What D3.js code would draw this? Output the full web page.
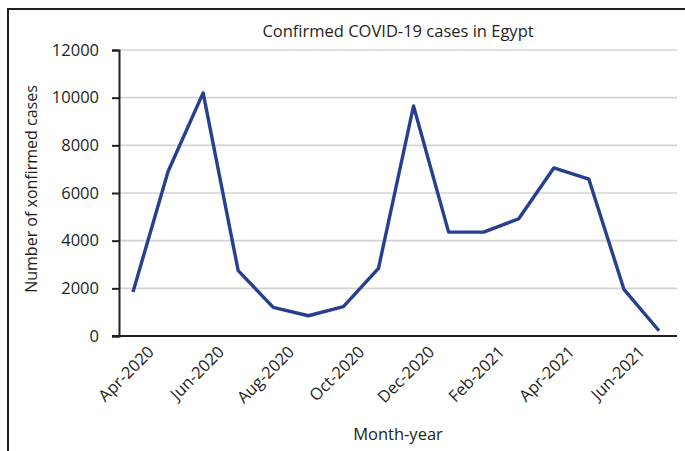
<!DOCTYPE html>
<html>
<head>
<meta charset="utf-8">
<script src="https://cdn.jsdelivr.net/npm/d3@7"></script>
<style>
  body { margin: 0; background: #fff; }
  text { font-family: "Open Sans", sans-serif; fill: #231f20; }
</style>
</head>
<body>
<div id="chart"></div>
<script>
// monthly confirmed cases
const months = ["Apr-2020", "May-2020", "Jun-2020", "Jul-2020", "Aug-2020", "Sep-2020",
  "Oct-2020", "Nov-2020", "Dec-2020", "Jan-2021", "Feb-2021", "Mar-2021",
  "Apr-2021", "May-2021", "Jun-2021", "Jul-2021"];
const cases = [1850, 6900, 10200, 2740, 1200, 850, 1230, 2840, 9650, 4360, 4360, 4920,
  7050, 6580, 1960, 220];
const tickLabels = ["Apr-2020", "Jun-2020", "Aug-2020", "Oct-2020", "Dec-2020",
  "Feb-2021", "Apr-2021", "Jun-2021"];
const yTicks = [0, 2000, 4000, 6000, 8000, 10000, 12000];

const W = 685, H = 451;
const margin = {left: 119, right: 677, top: 50, bottom: 336};

const svg = d3.select("#chart")
  .append("svg")
    .attr("width", W)
    .attr("height", H);

// outer frame
svg.append("rect")
  .attr("x", 8).attr("y", 9)
  .attr("width", 800).attr("height", 600)
  .attr("fill", "none")
  .attr("stroke", "#231f20")
  .attr("stroke-width", 2);

const x = d3.scalePoint()
  .domain(months)
  .range([133, 659]);

const y = d3.scaleLinear()
  .domain([0, 12000])
  .range([margin.bottom, margin.top]);

// grid lines
svg.append("g")
  .selectAll("line")
  .data(yTicks.filter(d => d > 0))
  .join("line")
    .attr("x1", margin.left).attr("x2", margin.right)
    .attr("y1", d => y(d)).attr("y2", d => y(d))
    .attr("stroke", "#d4d4d4")
    .attr("stroke-width", 1.6);

// y axis
const yAxis = svg.append("g")
  .attr("transform", `translate(${margin.left},0)`)
  .call(d3.axisLeft(y).tickValues(yTicks).tickSize(7).tickPadding(13).tickFormat(d3.format("d")));
yAxis.select(".domain").attr("stroke", "#231f20").attr("stroke-width", 2);
yAxis.selectAll(".tick line").attr("stroke", "#231f20").attr("stroke-width", 2);
yAxis.selectAll("text")
  .style("font-family", "'Open Sans', sans-serif")
  .style("font-size", "16.5px")
  .attr("fill", "#231f20");

// x axis line
svg.append("line")
  .attr("x1", margin.left - 7).attr("x2", margin.right)
  .attr("y1", margin.bottom).attr("y2", margin.bottom)
  .attr("stroke", "#231f20")
  .attr("stroke-width", 2);

// x tick labels
svg.append("g")
  .selectAll("text")
  .data(tickLabels)
  .join("text")
    .attr("transform", d => `translate(${x(d) + 22},${margin.bottom + 17}) rotate(-45)`)
    .attr("text-anchor", "end")
    .style("font-size", "16.5px")
    .text(d => d);

// the line
const line = d3.line()
  .x((d, i) => x(months[i]))
  .y(d => y(d));

svg.append("path")
  .datum(cases)
  .attr("d", line)
  .attr("fill", "none")
  .attr("stroke", "#263f8e")
  .attr("stroke-width", 3.4)
  .attr("stroke-linejoin", "round");

// title and axis titles
svg.append("text")
  .attr("x", (margin.left + margin.right) / 2)
  .attr("y", 37)
  .attr("text-anchor", "middle")
  .style("font-size", "16.5px")
  .text("Confirmed COVID-19 cases in Egypt");

svg.append("text")
  .attr("transform", "translate(37,189) rotate(-90)")
  .attr("text-anchor", "middle")
  .style("font-size", "16px")
  .text("Number of xonfirmed cases");

svg.append("text")
  .attr("x", (margin.left + margin.right) / 2)
  .attr("y", 440)
  .attr("text-anchor", "middle")
  .style("font-size", "16.5px")
  .text("Month-year");
</script>
</body>
</html>
